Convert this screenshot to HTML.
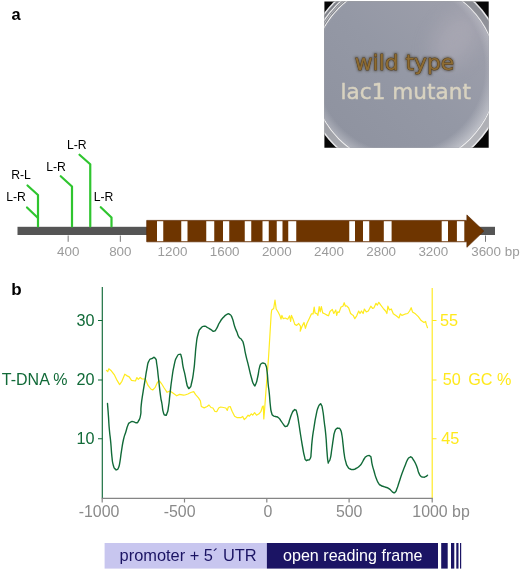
<!DOCTYPE html>
<html><head><meta charset="utf-8"><title>Figure</title>
<style>
html,body{margin:0;padding:0;background:#fff;}
body{width:520px;height:571px;overflow:hidden;font-family:"Liberation Sans",Arial,sans-serif;}
svg{display:block;}
text{font-family:"Liberation Sans",Arial,sans-serif;}
.dish{font-family:"DejaVu Sans","Liberation Sans",sans-serif;}
</style></head><body>
<svg width="520" height="571" viewBox="0 0 520 571">
<defs>
<clipPath id="pc"><rect x="324.4" y="1.5" width="164.3" height="146.2"/></clipPath>
<linearGradient id="agar" x1="0.1" y1="0.9" x2="0.9" y2="0.1">
<stop offset="0" stop-color="#8e929f"/><stop offset="0.5" stop-color="#9498a5"/><stop offset="1" stop-color="#9fa0ac"/>
</linearGradient>
<radialGradient id="men" cx="0.48" cy="0.47" r="0.53">
<stop offset="0" stop-color="#d4d5da" stop-opacity="0"/><stop offset="0.86" stop-color="#d4d5da" stop-opacity="0"/><stop offset="1" stop-color="#d4d5da" stop-opacity="0.6"/>
</radialGradient>
<linearGradient id="rim" x1="0.3" y1="0" x2="0.6" y2="1">
<stop offset="0" stop-color="#7b7d84"/><stop offset="0.45" stop-color="#909299"/><stop offset="1" stop-color="#b9babf"/>
</linearGradient>
<filter id="bl3" x="-50%" y="-50%" width="200%" height="200%"><feGaussianBlur stdDeviation="9"/></filter>
<filter id="bl" x="-10%" y="-30%" width="120%" height="160%"><feGaussianBlur stdDeviation="0.5"/></filter>
<filter id="bl2" x="-10%" y="-30%" width="120%" height="160%"><feGaussianBlur stdDeviation="1.3"/></filter>
</defs>
<!-- panel a -->
<text x="11.4" y="19.7" font-size="16.4" font-weight="bold" fill="#000">a</text>
<g clip-path="url(#pc)">
<rect x="324" y="1" width="165" height="147" fill="#060606"/>
<circle cx="404.5" cy="73.5" r="100.7" fill="#e9e9eb"/>
<circle cx="404.5" cy="73.5" r="99.2" fill="url(#rim)"/>
<circle cx="404.5" cy="73.5" r="96.4" fill="none" stroke="#f4f4f5" stroke-width="1.3" stroke-dasharray="0 290 190 126" opacity="0.9"/>
<circle cx="404.5" cy="73.5" r="94.6" fill="none" stroke="#c9cad0" stroke-width="1" stroke-dasharray="0 290 180 126" opacity="0.8"/>
<circle cx="404.5" cy="73.5" r="92.6" fill="none" stroke="#ededee" stroke-width="1.2"/>
<circle cx="404.5" cy="73.5" r="92" fill="url(#agar)"/>
<circle cx="404.5" cy="73.5" r="92" fill="url(#men)"/>
<ellipse cx="455" cy="40" rx="20" ry="30" fill="#b2afba" opacity="0.5" filter="url(#bl3)" transform="rotate(35 455 40)"/>
<g class="dish" font-size="21.8">
<text x="354.8" y="70" fill="#3b3324" stroke="#3b3324" stroke-width="2.4" opacity="0.5" filter="url(#bl2)" class="dish">wild type</text>
<text x="354.8" y="70" fill="#554022" stroke="#554022" stroke-width="0.9" stroke-linejoin="round" filter="url(#bl)" class="dish">wild type</text>
<text x="354.8" y="70" fill="#8e6c33" stroke="#8e6c33" stroke-width="0" filter="url(#bl)" class="dish">wild type</text>
<text x="340.6" y="98.8" font-size="21.6" fill="#d8d2c0" stroke="#d8d2c0" stroke-width="0.45" stroke-linejoin="round" filter="url(#bl)" class="dish">lac1 mutant</text>
</g>
</g>
<!-- gene model -->
<g transform="translate(0,0.5)">
<rect x="17.5" y="226.3" width="477.5" height="8.2" fill="#555"/>
<g stroke="#2fc52f" stroke-width="2.2" fill="none" stroke-linecap="round" stroke-linejoin="round">
<path d="M27.5,185 L38,194.5 L38,226"/>
<path d="M27,207 L38,217.5"/>
<path d="M60.75,175.75 L72,186 L72,226"/>
<path d="M79.5,154.25 L90.25,163.75 L90.25,226"/>
<path d="M100.75,206.75 L111.5,217 L111.5,226"/>
</g>
<g font-size="12.2" fill="#000">
<text x="11.2" y="178.8">R-L</text>
<text x="6.2" y="200.5">L-R</text>
<text x="46.2" y="170">L-R</text>
<text x="67" y="148">L-R</text>
<text x="93.7" y="200.5">L-R</text>
</g>
<path d="M146.7,219.9 H466.9 V214.4 L483.8,230.6 L466.9,246.8 V241.3 H146.7 Z" fill="#6e3500" stroke="#5b2a00" stroke-width="0.7"/>
<g fill="#fff"><rect x="157.00" y="220.7" width="6.25" height="20"/><rect x="181.25" y="220.7" width="6.25" height="20"/><rect x="206.25" y="220.7" width="8.00" height="20"/><rect x="223.00" y="220.7" width="6.25" height="20"/><rect x="244.75" y="220.7" width="6.50" height="20"/><rect x="262.50" y="220.7" width="6.25" height="20"/><rect x="276.75" y="220.7" width="5.75" height="20"/><rect x="288.25" y="220.7" width="8.00" height="20"/><rect x="349.25" y="220.7" width="5.75" height="20"/><rect x="363.00" y="220.7" width="6.25" height="20"/><rect x="383.80" y="220.7" width="7.80" height="20"/><rect x="441.70" y="220.7" width="6.30" height="20"/><rect x="456.90" y="220.7" width="7.40" height="20"/></g>
<g stroke="#777" stroke-width="1"><line x1="68.17" y1="235" x2="68.17" y2="241.3"/><line x1="120.33" y1="235" x2="120.33" y2="241.3"/><line x1="485.50" y1="235" x2="485.50" y2="241.3"/></g>
<g font-size="13.4" fill="#9b9b9b"><text x="68.17" y="255" text-anchor="middle">400</text><text x="120.33" y="255" text-anchor="middle">800</text><text x="172.50" y="255" text-anchor="middle">1200</text><text x="224.67" y="255" text-anchor="middle">1600</text><text x="276.83" y="255" text-anchor="middle">2000</text><text x="329.00" y="255" text-anchor="middle">2400</text><text x="381.17" y="255" text-anchor="middle">2800</text><text x="433.33" y="255" text-anchor="middle">3200</text><text x="471.2" y="255">3600 bp</text></g>
</g>
<!-- panel b -->
<text x="11.2" y="295" font-size="17" font-weight="bold" fill="#000">b</text>
<g stroke="#116a38" stroke-width="1.15" fill="none">
<path d="M102.3,287 V498.3"/>
<path d="M98,320.5 H102.3 M98,380 H102.3 M98,438.7 H102.3"/>
</g>
<g stroke="#ffe91c" stroke-width="1.15" fill="none">
<path d="M432.2,288 V498.3"/>
<path d="M432.2,320.5 H436.5 M432.2,380 H436.5 M432.2,438.7 H436.5"/>
</g>
<g stroke="#858585" stroke-width="1.2" fill="none">
<path d="M101.7,498.3 H432.8"/>
<path d="M102.2,498.3 V502.4 M184.5,498.3 V502.4 M266.8,498.3 V502.4 M349.1,498.3 V502.4 M432.2,498.3 V502.4"/>
</g>
<path d="M106.5,370.4L107.7,371.7L108.8,368.8L111.3,370.8L114.2,374.6L117.1,380.4L119.6,384.6L121.9,381.3L124.8,374.2L126.7,375.6L129.2,376.9L131.5,380.4L135.4,381.0L136.9,377.5L138.3,379.4L140.2,377.5L142.1,379.0L145.4,379.0L147.9,385.2L150.8,389.0L152.7,390.0L155.0,387.7L157.5,382.3L159.4,381.0L161.3,383.3L164.2,388.0L167.1,392.3L170.0,391.0L172.9,392.9L176.7,395.8L179.6,394.4L183.5,395.2L185.0,395.0L187.9,394.0L190.8,392.5L193.7,391.7L195.6,394.6L198.5,397.9L200.4,400.8L201.3,406.5L204.2,407.9L207.1,406.5L209.0,405.0L211.0,407.5L212.9,408.0L214.8,411.3L216.7,411.7L218.7,408.0L220.6,407.0L223.5,407.5L225.8,408.0L227.3,410.4L228.3,407.0L230.2,406.5L232.1,411.3L234.6,416.2L237.3,417.7L240.8,417.7L242.7,416.5L244.2,419.6L246.2,417.7L248.1,415.2L249.4,416.2L251.3,413.8L252.7,415.2L254.6,412.7L256.5,415.2L259.0,413.8L261.0,411.3L262.5,406.5L263.3,406.0L263.8,419.0L264.4,412.3L265.8,393.0L267.3,373.8L268.5,358.0L269.8,337.0L271.2,313.8L271.7,310.0L273.7,308.5L275.0,300.0L276.2,309.0L278.1,312.0L280.0,315.8L281.0,319.2L281.9,315.4L283.3,318.7L285.2,318.0L287.7,319.2L289.6,315.8L290.6,321.5L291.5,315.4L292.9,318.7L294.8,324.4L296.7,325.4L298.7,323.5L300.6,326.3L300.2,331.2L302.5,325.4L304.0,322.5L305.4,328.3L306.9,323.5L309.2,318.7L311.5,313.8L313.1,313.8L314.2,307.0L315.0,312.9L316.9,313.8L317.9,315.4L319.2,306.7L320.2,311.9L321.3,306.5L322.7,312.9L324.6,313.8L327.5,315.4L328.5,315.8L330.0,311.5L332.3,309.4L333.8,313.5L335.8,310.0L336.7,315.4L337.7,311.9L339.0,312.5L341.0,307.0L342.9,306.2L344.2,302.7L345.4,306.2L346.7,305.8L348.7,308.0L350.6,313.5L351.9,314.5L353.3,315.4L354.8,318.7L356.7,315.8L358.7,311.0L360.0,313.5L361.5,311.0L363.1,313.5L364.4,309.0L366.3,311.9L368.3,311.0L370.8,306.2L372.7,308.5L374.0,307.7L376.0,303.3L377.3,305.2L378.8,302.3L380.8,305.2L383.7,309.0L385.6,311.0L386.9,313.5L387.9,306.2L389.4,310.0L391.3,309.0L393.3,313.8L396.2,315.8L399.0,318.0L400.4,313.8L401.9,315.4L404.8,314.2L407.7,313.5L409.6,311.0L411.2,307.7L412.5,311.9L415.4,313.8L418.3,316.7L421.2,320.6L424.0,322.5L425.6,321.5L426.3,324.4L427.5,327.7" fill="none" stroke="#ffeb1e" stroke-width="1.2" stroke-linejoin="round" stroke-linecap="round"/>
<path d="M107.5,403.5C107.8,408.0 107.9,408.1 108.5,416.9C109.1,425.7 108.6,421.3 109.4,430.0C110.2,438.7 110.0,434.2 110.8,443.0C111.6,451.8 111.1,449.1 111.9,456.5C112.7,463.9 112.2,461.0 113.3,465.2C114.4,469.4 114.1,467.5 115.2,469.0C116.3,470.5 115.6,470.0 116.7,469.6C117.8,469.2 117.4,470.5 118.5,467.7C119.6,464.9 119.0,466.9 120.0,461.3C121.0,455.7 120.3,458.1 121.5,450.8C122.7,443.5 122.1,445.8 123.5,439.5C124.9,433.2 124.3,436.8 125.8,432.0C127.3,427.2 126.5,428.4 127.9,425.2C129.3,422.0 128.3,423.7 130.0,422.5C131.7,421.3 130.9,421.5 133.0,421.6C135.1,421.7 134.5,423.0 136.3,422.8C138.1,422.6 137.1,423.5 138.5,420.9C139.9,418.3 139.7,420.2 140.6,415.0C141.5,409.8 140.4,413.1 141.2,405.4C142.0,397.7 141.8,400.2 143.1,391.9C144.4,383.6 143.7,388.1 145.0,380.4C146.3,372.7 145.6,375.2 146.9,368.8C148.2,362.4 147.2,364.6 148.8,361.2C150.4,357.8 149.6,359.7 151.7,358.7C153.8,357.7 153.5,356.2 155.2,358.3C156.9,360.4 155.8,358.3 156.9,365.0C158.0,371.7 157.3,368.6 158.5,378.5C159.7,388.4 159.3,386.5 160.4,394.8C161.5,403.1 160.9,397.7 161.9,403.5C162.9,409.3 162.2,408.3 163.3,412.1C164.4,415.9 163.9,414.7 165.2,415.0C166.5,415.3 165.9,416.3 167.1,413.1C168.3,409.9 167.7,411.8 168.7,405.4C169.7,399.0 168.9,402.8 170.0,393.8C171.1,384.8 170.5,388.1 171.9,378.5C173.3,368.9 172.6,372.1 174.2,365.0C175.8,357.9 174.9,360.8 176.7,357.3C178.5,353.8 178.0,354.4 179.6,354.4C181.2,354.4 180.3,353.1 181.5,357.3C182.7,361.5 181.9,361.1 183.1,366.9C184.3,372.7 183.9,369.6 185.0,374.8C186.1,380.0 185.5,378.4 186.5,382.5C187.5,386.6 186.8,385.3 187.9,387.0C189.0,388.7 188.5,389.2 189.8,387.7C191.1,386.2 190.4,388.1 191.7,382.5C193.0,376.9 192.6,379.2 193.7,371.0C194.8,362.8 194.2,366.7 195.0,358.0C195.8,349.3 195.2,352.8 196.2,344.8C197.2,336.8 196.6,339.5 198.1,334.0C199.6,328.5 198.8,330.9 200.8,328.3C202.8,325.7 202.1,326.6 204.2,326.3C206.3,326.0 204.8,326.2 207.1,327.3C209.4,328.4 208.8,328.3 211.0,329.6C213.2,330.9 211.9,331.6 213.8,331.2C215.7,330.8 214.8,331.2 216.7,328.3C218.6,325.4 217.3,326.2 219.6,322.5C221.9,318.8 221.1,320.0 223.5,317.3C225.9,314.6 224.9,315.4 226.9,314.4C228.9,313.4 227.9,313.3 229.6,314.4C231.3,315.5 230.4,313.7 232.1,317.7C233.8,321.7 233.0,321.5 234.6,326.3C236.2,331.1 235.5,328.6 236.9,332.1C238.3,335.6 237.2,334.3 238.8,336.9C240.4,339.5 240.1,337.2 241.7,339.8C243.3,342.4 242.4,339.8 243.7,344.6C245.0,349.4 244.0,347.1 245.6,354.2C247.2,361.3 246.6,358.1 248.5,365.8C250.4,373.5 249.5,371.1 251.3,377.3C253.1,383.5 252.3,382.3 253.8,384.5C255.3,386.7 254.5,386.5 255.8,384.0C257.1,381.5 256.4,382.6 257.7,377.0C259.0,371.4 258.3,371.6 259.6,367.1C260.9,362.6 260.1,364.9 261.5,363.6C262.9,362.3 262.4,362.8 263.8,363.3C265.2,363.8 264.7,362.3 265.8,365.2C266.9,368.1 266.3,365.8 267.1,371.9C267.9,378.0 267.4,376.3 268.1,383.5C268.8,390.7 268.6,386.3 269.3,393.5C270.0,400.7 269.6,398.7 270.3,405.0C271.0,411.3 270.5,408.9 271.5,412.5C272.5,416.1 271.9,414.5 273.3,415.8C274.7,417.1 273.9,415.9 275.6,416.5C277.3,417.1 276.6,416.1 278.5,417.7C280.4,419.3 279.4,418.7 281.3,421.3C283.2,423.9 282.6,423.7 284.2,425.4C285.8,427.1 284.9,426.6 286.2,426.3C287.5,426.0 286.8,426.9 288.1,424.4C289.4,421.9 288.7,422.3 290.0,418.7C291.3,415.1 290.6,416.3 291.9,413.5C293.2,410.7 292.6,411.6 293.8,410.4C295.0,409.2 294.4,409.2 295.4,410.0C296.4,410.8 295.8,408.7 296.9,412.9C298.0,417.1 297.5,415.1 298.7,422.5C299.9,429.9 299.3,427.0 300.6,435.0C301.9,443.0 301.2,439.4 302.5,446.5C303.8,453.6 303.3,451.7 304.4,456.2C305.5,460.7 304.7,458.7 305.8,460.0C306.9,461.3 306.2,460.5 307.7,460.0C309.2,459.5 309.0,461.1 310.2,458.5C311.4,455.9 310.6,458.2 311.2,452.3C311.8,446.4 311.2,449.1 312.1,440.8C313.0,432.5 312.7,435.6 314.0,427.3C315.3,419.0 314.7,422.2 316.0,415.8C317.3,409.4 316.6,411.8 317.9,408.1C319.2,404.4 318.7,405.7 319.8,404.6C320.9,403.5 320.3,403.0 321.3,404.8C322.3,406.6 321.7,404.4 322.7,410.0C323.7,415.6 323.2,413.2 324.2,421.5C325.2,429.8 324.9,425.4 325.8,435.0C326.7,444.6 326.2,441.7 326.9,450.4C327.6,459.1 327.3,457.3 327.9,461.0C328.5,464.7 328.0,462.5 328.8,461.5C329.6,460.5 329.4,462.4 330.4,458.1C331.4,453.8 330.9,454.9 331.9,448.5C332.9,442.1 332.4,444.3 333.3,438.8C334.2,433.3 333.5,435.4 334.6,432.1C335.7,428.8 335.2,430.1 336.5,428.8C337.8,427.5 337.2,428.0 338.5,428.3C339.8,428.6 339.3,427.4 340.4,429.6C341.5,431.8 341.0,430.0 341.9,435.0C342.8,440.0 342.3,438.2 343.1,444.6C343.9,451.0 343.3,448.4 344.2,454.2C345.1,460.0 344.6,457.7 345.8,461.9C347.0,466.1 346.2,464.3 347.7,466.7C349.2,469.1 348.5,468.1 350.3,469.0C352.1,469.9 351.1,469.7 353.0,469.5C354.9,469.3 354.0,469.5 356.0,468.5C358.0,467.5 357.1,468.3 359.0,466.5C360.9,464.7 360.0,465.9 361.8,463.2C363.6,460.5 362.9,460.7 364.4,458.5C365.9,456.3 365.0,457.5 366.3,456.5C367.6,455.5 367.0,455.7 368.3,455.6C369.6,455.5 369.2,455.2 370.2,456.2C371.2,457.2 370.6,455.8 371.2,458.5C371.8,461.2 371.2,460.0 372.1,464.2C373.0,468.4 372.7,466.5 374.0,471.0C375.3,475.5 374.5,473.7 376.0,477.7C377.5,481.7 376.9,480.5 378.5,483.1C380.1,485.7 378.8,484.1 380.8,485.4C382.8,486.7 382.0,485.9 384.6,486.9C387.2,487.9 386.3,487.0 388.5,488.3C390.7,489.6 389.7,489.4 391.3,490.8C392.9,492.2 392.0,492.1 393.3,492.5C394.6,492.9 393.9,493.5 395.2,492.1C396.5,490.7 395.8,491.5 397.1,488.3C398.4,485.1 397.4,487.3 399.0,482.5C400.6,477.7 400.0,479.2 401.9,473.8C403.8,468.4 402.9,471.0 404.8,466.2C406.7,461.4 406.1,462.3 407.7,459.4C409.3,456.5 408.4,458.3 409.6,457.5C410.8,456.7 410.0,456.5 411.2,457.1C412.4,457.7 411.7,457.3 413.1,459.4C414.5,461.5 414.0,460.4 415.4,463.3C416.8,466.2 416.2,464.9 417.3,468.1C418.4,471.3 417.6,470.2 418.8,472.9C420.0,475.6 419.4,474.8 420.8,476.2C422.2,477.6 421.6,476.9 423.1,477.1C424.6,477.3 423.9,477.3 425.4,476.7C426.9,476.1 426.8,475.7 427.5,475.2" fill="none" stroke="#116a38" stroke-width="1.4" stroke-linejoin="round" stroke-linecap="round"/>
<g font-size="16.2" fill="#116a38">
<text x="1.8" y="385.3" font-size="16">T-DNA %</text>
<text x="94.5" y="326" text-anchor="end">30</text>
<text x="94.5" y="385.3" text-anchor="end">20</text>
<text x="94.5" y="444" text-anchor="end">10</text>
</g>
<g font-size="16.2" fill="#ffe91c">
<text x="440" y="325.6">55</text>
<text x="442.8" y="385.3">50</text>
<text x="441.3" y="444">45</text>
<text x="468.2" y="385.3">GC %</text>
</g>
<g font-size="15.9" fill="#8a8a8a" text-anchor="middle">
<text x="99" y="517.4">-1000</text>
<text x="179.6" y="517.4">-500</text>
<text x="267.8" y="517.4">0</text>
<text x="349.2" y="517.4">500</text>
<text x="412.3" y="517.4" text-anchor="start">1000 bp</text>
</g>
<rect x="104.6" y="543" width="162.4" height="25.6" fill="#c8c6ef"/>
<g fill="#1b1464">
<rect x="266.9" y="543" width="171.1" height="25.6"/>
<rect x="441.2" y="543" width="6.5" height="25.6"/>
<rect x="451" y="543" width="3.3" height="25.6"/>
<rect x="456.3" y="543" width="2.2" height="25.6"/>
<rect x="460" y="543" width="1.2" height="25.6"/>
</g>
<text x="119.6" y="560.8" font-size="16.4" fill="#1b1464">promoter + 5´ UTR</text>
<text x="283" y="560.8" font-size="16.1" fill="#fff">open reading frame</text>
</svg>
</body></html>
